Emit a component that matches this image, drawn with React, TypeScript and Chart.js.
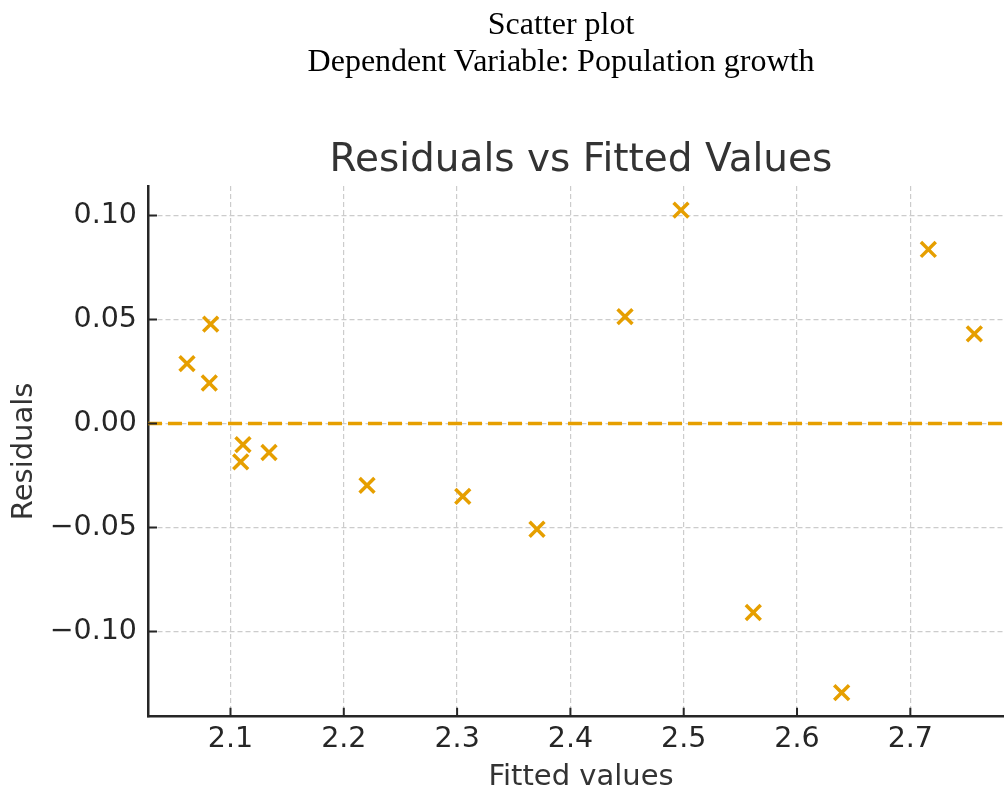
import React, { useEffect, useRef } from "react";
import { Chart, registerables } from "chart.js";

Chart.register(...registerables);

// ---- data ----
const FITTED = [2.0616, 2.0825, 2.0813, 2.111, 2.109, 2.134, 2.2205, 2.305, 2.3705, 2.4482, 2.4976, 2.5614, 2.6394, 2.7159, 2.7565];
const RESIDUALS = [0.0288, 0.0478, 0.0195, -0.0101, -0.0184, -0.0139, -0.0297, -0.035, -0.0508, 0.0514, 0.1026, -0.0908, -0.1293, 0.0837, 0.0431];
const X_LIMITS = [2.0272, 2.7915];
const Y_LIMITS = [-0.1409, 0.1142];
const X_STEP = 0.1;
const Y_STEP = 0.05;
const ZERO_LEVEL = 0;

const HEADER_LINES = ["Scatter plot", "Dependent Variable: Population growth"];
const TITLE = "Residuals vs Fitted Values";
const X_LABEL = "Fitted values";
const Y_LABEL = "Residuals";

const ORANGE = "#E69F00";
const AXIS_COLOR = "#262626";
const TEXT_COLOR = "#333333";
const GRID_COLOR = "#cccccc";
const FONT = "'DejaVu Sans', sans-serif";

const CANVAS_W = 1122;
const CANVAS_H = 790;

const inwardTicks = {
  id: "inwardTicks",
  afterDatasetsDraw(chart: any) {
    const { ctx, chartArea } = chart;
    const xs = chart.scales.x;
    const ys = chart.scales.y;
    ctx.save();
    ctx.strokeStyle = AXIS_COLOR;
    ctx.lineWidth = 2;
    ctx.beginPath();
    xs.ticks.forEach((t: any) => {
      const p = xs.getPixelForValue(t.value);
      ctx.moveTo(p, chartArea.bottom);
      ctx.lineTo(p, chartArea.bottom - 9);
    });
    ys.ticks.forEach((t: any) => {
      const p = ys.getPixelForValue(t.value);
      ctx.moveTo(chartArea.left, p);
      ctx.lineTo(chartArea.left + 9, p);
    });
    ctx.stroke();
    ctx.restore();
  },
};

function fmtY(v: number): string {
  const n = Math.round(v * 100) / 100;
  const s = Math.abs(n).toFixed(2);
  return n < 0 ? "\u2212" + s : s;
}

export default function App() {
  const ref = useRef<HTMLCanvasElement>(null);

  useEffect(() => {
    document.documentElement.style.overflow = "hidden";
    document.body.style.overflow = "hidden";
    const points = FITTED.map((x, i) => ({ x, y: RESIDUALS[i] }));
    const zeroLine = X_LIMITS.map((x) => ({ x, y: ZERO_LEVEL }));
    const chart = new Chart(ref.current as HTMLCanvasElement, {
      type: "scatter",
      data: {
        datasets: [
          {
            type: "line",
            data: zeroLine,
            borderColor: ORANGE,
            borderWidth: 3.5,
            borderDash: [14, 6],
            pointRadius: 0,
            fill: false,
            order: 2,
          } as any,
          {
            type: "scatter",
            data: points,
            pointStyle: "crossRot",
            pointRadius: 10.5,
            pointBorderWidth: 3.5,
            borderWidth: 3.5,
            borderColor: ORANGE,
            backgroundColor: ORANGE,
            pointHoverRadius: 10.5,
            order: 1,
          } as any,
        ],
      },
      options: {
        responsive: false,
        animation: false,
        devicePixelRatio: 1,
        events: [],
        layout: { padding: { top: 0, left: 0, right: CANVAS_W - 1014, bottom: 0 } },
        plugins: {
          legend: { display: false },
          tooltip: { enabled: false },
          title: {
            display: true,
            text: TITLE,
            fullSize: false,
            color: TEXT_COLOR,
            font: { family: FONT, size: 39, weight: "normal" },
            padding: { top: 137, bottom: 2.2 },
          },
        },
        scales: {
          x: {
            type: "linear",
            min: X_LIMITS[0],
            max: X_LIMITS[1],
            afterFit: (s: any) => {
              s.height = CANVAS_H - 716.7;
            },
            ticks: {
              stepSize: X_STEP,
              includeBounds: false,
              autoSkip: false,
              maxRotation: 0,
              padding: 6,
              color: AXIS_COLOR,
              font: { family: FONT, size: 28.5 },
              callback: (v: any) => Number(v).toFixed(1),
            },
            grid: { color: GRID_COLOR, lineWidth: 1.2, drawTicks: false },
            border: { display: true, color: AXIS_COLOR, width: 2.5, dash: [5, 3] },
            title: {
              display: true,
              text: X_LABEL,
              color: TEXT_COLOR,
              font: { family: FONT, size: 29 },
              padding: { top: 0, bottom: -4.5 },
            },
          },
          y: {
            type: "linear",
            min: Y_LIMITS[0],
            max: Y_LIMITS[1],
            afterFit: (s: any) => {
              s.width = 148;
            },
            ticks: {
              stepSize: Y_STEP,
              includeBounds: false,
              padding: 11,
              color: AXIS_COLOR,
              font: { family: FONT, size: 28.5 },
              callback: (v: any) => fmtY(Number(v)),
            },
            grid: { color: GRID_COLOR, lineWidth: 1.2, drawTicks: false },
            border: { display: true, color: AXIS_COLOR, width: 2.5, dash: [5, 3] },
            title: {
              display: true,
              text: Y_LABEL,
              color: TEXT_COLOR,
              font: { family: FONT, size: 29 },
              padding: { top: 7.5, bottom: 0 },
            },
          },
        },
      } as any,
      plugins: [inwardTicks],
    });
    return () => chart.destroy();
  }, []);

  return (
    <div
      style={{
        position: "fixed",
        left: 0,
        top: 0,
        width: CANVAS_W,
        height: CANVAS_H,
        overflow: "hidden",
        background: "#ffffff",
      }}
    >
      <canvas
        ref={ref}
        width={CANVAS_W}
        height={CANVAS_H}
        style={{ position: "absolute", left: 0, top: 0, width: CANVAS_W, height: CANVAS_H }}
      />
      <div
        style={{
          position: "absolute",
          left: 0,
          top: 5,
          width: CANVAS_W,
          textAlign: "center",
          fontFamily: "'Liberation Serif', 'Times New Roman', serif",
          fontSize: 32,
          lineHeight: "37px",
          color: "#000",
        }}
      >
        {HEADER_LINES.map((l) => (
          <div key={l}>{l}</div>
        ))}
      </div>
    </div>
  );
}
